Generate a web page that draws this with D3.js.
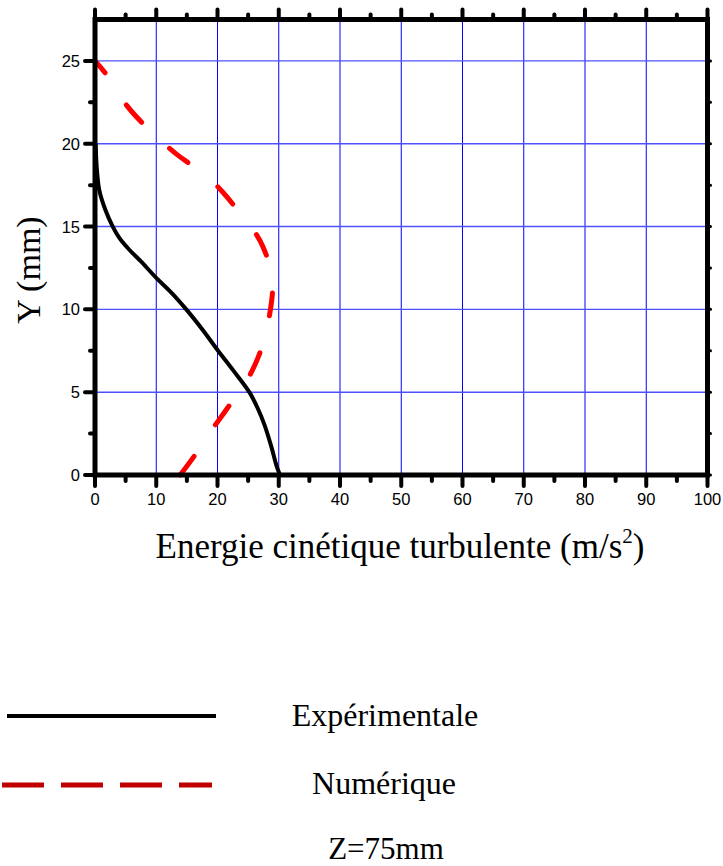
<!DOCTYPE html>
<html>
  <head>
    <meta charset="utf-8">
    <script src="https://d3js.org/d3.v7.min.js"></script>
    <title>Energie cinétique turbulente</title>
    <style>
      body { margin: 0; background: #fff; }
      .tick-label { font-family: "Liberation Sans", Arial, sans-serif; font-size: 16.5px; }
      .title { font-family: "Liberation Serif", "Times New Roman", serif; }
    </style>
  </head>
  <body>
    <svg width="723" height="866"></svg>
    <script>
      // values: x = energie (m/s2), y = Y (mm)
      const expX = [0.1, 0.3, 0.7, 1.7, 2.9, 4.0, 5.6, 7.5, 10.0, 12.5, 14.9, 17.5, 20.0, 22.6, 25.2, 26.6, 27.7, 28.8, 29.6, 30.2];
      const expY = [20.0, 18.5, 17.2, 16.0, 15.0, 14.3, 13.6, 12.9, 11.9, 11.0, 10.0, 8.8, 7.55, 6.3, 5.0, 4.0, 3.0, 1.7, 0.6, 0.0];

      const numX = [0.0, 1.8, 5.2, 8.4, 11.0, 13.2, 16.9, 19.5, 21.5, 24.3, 26.2, 27.4, 28.7, 29.0, 28.9, 28.3, 27.8, 27.1, 25.6, 24.2, 22.6, 19.8, 18.0, 16.5, 13.9];
      const numY = [25.0, 24.2, 22.3, 21.0, 20.1, 19.4, 18.4, 17.6, 16.8, 15.5, 14.6, 13.8, 12.4, 11.5, 10.7, 9.25, 8.4, 7.55, 6.25, 5.4, 4.55, 3.1, 2.2, 1.3, 0.0];

      const xTicks = [0, 10, 20, 30, 40, 50, 60, 70, 80, 90, 100];
      const yTicks = [0, 5, 10, 15, 20, 25];
      const xMinor = [5, 15, 25, 35, 45, 55, 65, 75, 85, 95];
      const yMinor = [2.5, 7.5, 12.5, 17.5, 22.5];

      const legendNames = ['Expérimentale', 'Numérique'];
      const xLabel = 'Energie cinétique turbulente (m/s';
      const yLabel = 'Y (mm)';
      const note = 'Z=75mm';

      const svg = d3.select('svg');
      const pLeft = 95, pRight = 707.5, pTop = 19.5, pBottom = 475;

      const x = d3.scaleLinear().domain([0, 100]).range([pLeft, pRight]);
      const y = d3.scaleLinear().domain([0, 27.5]).range([pBottom, pTop]);

      // grid
      const grid = svg.append('g');
      grid.selectAll('line.v').data(xTicks.slice(1, -1))
        .enter().append('line')
          .attr('x1', d => x(d)).attr('x2', d => x(d))
          .attr('y1', pTop).attr('y2', pBottom)
          .attr('stroke', '#0000ff').attr('stroke-width', 1);
      grid.selectAll('line.h').data(yTicks.slice(1))
        .enter().append('line')
          .attr('x1', pLeft).attr('x2', pRight)
          .attr('y1', d => y(d)).attr('y2', d => y(d))
          .attr('stroke', '#5050ff').attr('stroke-width', 1.4);

      // curves
      const line = d3.line()
        .x(d => x(d[0]))
        .y(d => y(d[1]))
        .curve(d3.curveCatmullRom);

      svg.append('path')
        .datum(expX.map((v, i) => [v, expY[i]]))
        .attr('d', line)
        .attr('fill', 'none')
        .attr('stroke', '#000')
        .attr('stroke-width', 4);

      const num = svg.append('path')
        .datum(numX.map((v, i) => [v, numY[i]]))
        .attr('d', line)
        .attr('fill', 'none')
        .attr('stroke', '#ff0000')
        .attr('stroke-width', 5)
        .attr('stroke-linecap', 'round');

      // 9 dashes, first one cut at the top, last one ending on the axis
      const len = num.node().getTotalLength();
      const period = (len - 15.5) / 8;
      num.attr('stroke-dasharray', `23,${period - 23}`)
        .attr('stroke-dashoffset', 7.5);

      // axes
      const axisG = svg.append('g');
      const tick = (x1, y1, x2, y2, w) => axisG.append('line')
        .attr('x1', x1).attr('y1', y1).attr('x2', x2).attr('y2', y2)
        .attr('stroke', '#000').attr('stroke-width', w).attr('stroke-linecap', 'round');

      xTicks.forEach(d => { tick(x(d), pBottom, x(d), pBottom + 11, 4); tick(x(d), pTop, x(d), pTop - 10, 4); });
      xMinor.forEach(d => { tick(x(d), pBottom, x(d), pBottom + 6, 4); tick(x(d), pTop, x(d), pTop - 5, 4); });
      yTicks.forEach(d => { tick(pLeft, y(d), pLeft - 10, y(d), 4); tick(pRight, y(d), pRight + 3, y(d), 3); });
      yMinor.forEach(d => { tick(pLeft, y(d), pLeft - 5, y(d), 4); tick(pRight, y(d), pRight + 3, y(d), 3); });

      axisG.append('rect')
        .attr('x', pLeft).attr('y', pTop)
        .attr('width', pRight - pLeft).attr('height', pBottom - pTop)
        .attr('fill', 'none').attr('stroke', '#000').attr('stroke-width', 5);

      svg.append('g').selectAll('text').data(xTicks)
        .enter().append('text')
          .attr('class', 'tick-label')
          .attr('x', d => x(d)).attr('y', 505)
          .attr('text-anchor', 'middle')
          .text(d => d);

      svg.append('g').selectAll('text').data(yTicks)
        .enter().append('text')
          .attr('class', 'tick-label')
          .attr('x', 80).attr('y', d => y(d) + 6)
          .attr('text-anchor', 'end')
          .text(d => d);

      // axis titles
      const xt = svg.append('text')
        .attr('class', 'title')
        .attr('x', 400).attr('y', 558)
        .attr('text-anchor', 'middle')
        .attr('font-size', 35);
      xt.append('tspan').text(xLabel);
      xt.append('tspan').attr('dy', -15).attr('font-size', 21).text('2');
      xt.append('tspan').attr('dy', 15).text(')');

      svg.append('text')
        .attr('class', 'title')
        .attr('transform', 'translate(40,270) rotate(-90)')
        .attr('text-anchor', 'middle')
        .attr('font-size', 34)
        .text(yLabel);

      // legend
      svg.append('line')
        .attr('x1', 7).attr('x2', 216).attr('y1', 716).attr('y2', 716)
        .attr('stroke', '#000').attr('stroke-width', 4);
      svg.append('line')
        .attr('x1', 2).attr('x2', 212).attr('y1', 785).attr('y2', 785)
        .attr('stroke', '#c00000').attr('stroke-width', 5)
        .attr('stroke-dasharray', '42,17');

      svg.append('g').selectAll('text').data(legendNames)
        .enter().append('text')
          .attr('class', 'title')
          .attr('x', (d, i) => i === 0 ? 385 : 384)
          .attr('y', (d, i) => 726 + i * 68)
          .attr('text-anchor', 'middle')
          .attr('font-size', 32)
          .text(d => d);

      svg.append('text')
        .attr('class', 'title')
        .attr('x', 386).attr('y', 859)
        .attr('text-anchor', 'middle')
        .attr('font-size', 31)
        .text(note);
    </script>
  </body>
</html>
